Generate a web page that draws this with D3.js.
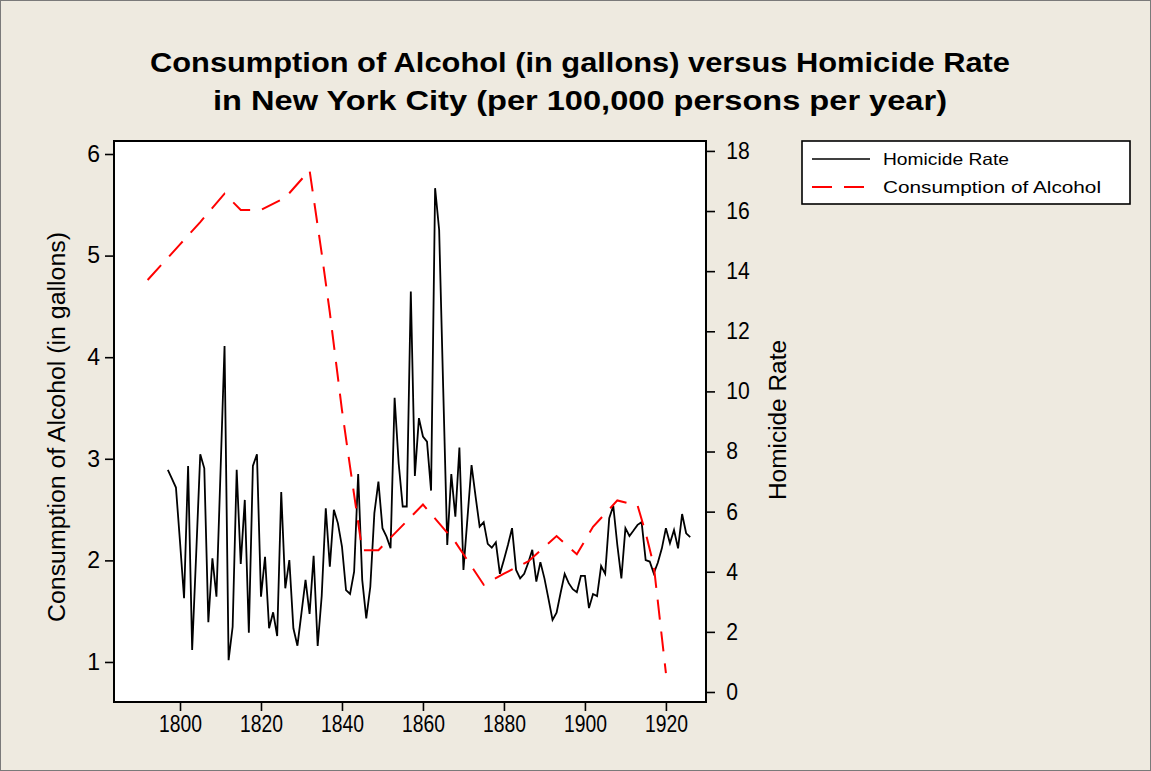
<!DOCTYPE html>
<html>
<head>
<meta charset="utf-8">
<script src="https://cdn.jsdelivr.net/npm/d3@7"></script>
<style>
  html, body { margin: 0; padding: 0; background: #EDE9DF; }
  svg { display: block; }
  text { font-family: "Liberation Sans", Arial, sans-serif; fill: #000; }
</style>
</head>
<body>
<svg id="chart" width="1151" height="771"></svg>
<script>
// ---- Data ----
const homicideYears = d3.range(1797, 1927);
const homicideRate = [
  7.39, 7.10, 6.80, 5.00, 3.12, 7.52, 1.40, 4.60, 7.91, 7.44,
  2.32, 4.45, 3.17, 7.30, 11.51, 1.06, 2.17, 7.39, 4.26, 6.39,
  1.97, 7.52, 7.91, 3.17, 4.50, 2.12, 2.65, 1.86, 6.65, 3.45,
  4.39, 2.12, 1.54, 2.63, 3.73, 2.60, 4.53, 1.53, 3.20, 6.11,
  4.17, 6.06, 5.61, 4.84, 3.39, 3.26, 4.00, 7.25, 3.73, 2.45,
  3.50, 5.95, 7.00, 5.45, 5.17, 4.78, 9.79, 7.61, 6.17, 6.17,
  13.32, 7.19, 9.11, 8.50, 8.33, 6.70, 16.76, 15.37, 10.10, 4.89,
  7.25, 5.83, 8.13, 4.06, 5.80, 7.55, 6.50, 5.50, 5.65, 4.93,
  4.80, 4.98, 3.93, 4.40, 4.90, 5.45, 4.06, 3.78, 3.93, 4.30,
  4.73, 3.67, 4.32, 3.78, 3.10, 2.40, 2.64, 3.30, 3.93, 3.62,
  3.42, 3.32, 3.86, 3.86, 2.79, 3.26, 3.19, 4.19, 3.93, 5.78,
  6.19, 4.89, 3.78, 5.45, 5.19, 5.37, 5.56, 5.65, 4.39, 4.34,
  3.95, 4.30, 4.78, 5.45, 4.95, 5.39, 4.78, 5.92, 5.28, 5.15
];
const alcoholYears = [1792, 1800, 1805, 1811, 1815, 1820, 1826, 1832, 1835, 1837, 1840, 1842, 1845, 1849,
  1860, 1868, 1875, 1880, 1886, 1893, 1898, 1902, 1908, 1913, 1915, 1917, 1920];
const alcoholValues = [4.76, 5.11, 5.33, 5.61, 5.45, 5.45, 5.57, 5.84, 5.02, 4.44, 3.48, 2.92, 2.10, 2.10,
  2.55, 2.18, 1.76, 1.87, 1.99, 2.24, 2.06, 2.33, 2.59, 2.54, 2.27, 1.95, 0.89];
const xTicks = [1800, 1820, 1840, 1860, 1880, 1900, 1920];
const leftTicks = [1, 2, 3, 4, 5, 6];
const rightTicks = [0, 2, 4, 6, 8, 10, 12, 14, 16, 18];
const titleLines = ["Consumption of Alcohol (in gallons) versus Homicide Rate",
                    "in New York City (per 100,000 persons per year)"];
const leftLabel = "Consumption of Alcohol (in gallons)";
const rightLabel = "Homicide Rate";
const legendLabels = ["Homicide Rate", "Consumption of Alcohol"];

// ---- Layout ----
const W = 1151, H = 771;
const plot = { left: 114, right: 706, top: 141, bottom: 702 };
const svg = d3.select("#chart");

svg.append("rect").attr("x", 0.5).attr("y", 0.5).attr("width", W - 1).attr("height", H - 1)
  .attr("fill", "#EEEAE0").attr("stroke", "#7a7a7a").attr("stroke-width", 1);

const x = d3.scaleLinear().domain([1783.7, 1929.9]).range([plot.left, plot.right]);
const yL = d3.scaleLinear().domain([0.606, 6.128]).range([plot.bottom, plot.top]);
const yR = d3.scaleLinear().domain([-0.333, 18.33]).range([plot.bottom, plot.top]);

svg.append("rect").attr("x", plot.left).attr("y", plot.top)
  .attr("width", plot.right - plot.left).attr("height", plot.bottom - plot.top)
  .attr("fill", "#fff");

svg.append("clipPath").attr("id", "clip").append("rect")
  .attr("x", plot.left).attr("y", plot.top)
  .attr("width", plot.right - plot.left).attr("height", plot.bottom - plot.top);

// Homicide line
const homData = homicideYears.map((yr, i) => [yr, homicideRate[i]]);
svg.append("path").datum(homData)
  .attr("clip-path", "url(#clip)")
  .attr("fill", "none").attr("stroke", "#000").attr("stroke-width", 1.8)
  .attr("d", d3.line().x(d => x(d[0])).y(d => yR(d[1])));

// Alcohol line
const alcData = alcoholYears.map((yr, i) => [yr, alcoholValues[i]]);
svg.append("path").datum(alcData)
  .attr("clip-path", "url(#clip)")
  .attr("fill", "none").attr("stroke", "#ff0000").attr("stroke-width", 2)
  .attr("stroke-dasharray", "20,12")
  .attr("d", d3.line().x(d => x(d[0])).y(d => yL(d[1])));

// frame
svg.append("rect").attr("x", plot.left).attr("y", plot.top)
  .attr("width", plot.right - plot.left).attr("height", plot.bottom - plot.top)
  .attr("fill", "none").attr("stroke", "#000").attr("stroke-width", 2);

// Axes
const tickFont = 23;
const gx = svg.append("g").attr("transform", `translate(0,${plot.bottom})`)
  .call(d3.axisBottom(x).tickValues(xTicks).tickFormat(d3.format("d")).tickSize(9).tickPadding(5));
const gl = svg.append("g").attr("transform", `translate(${plot.left},0)`)
  .call(d3.axisLeft(yL).tickValues(leftTicks).tickFormat(d3.format("d")).tickSize(9).tickPadding(5));
const gr = svg.append("g").attr("transform", `translate(${plot.right},0)`)
  .call(d3.axisRight(yR).tickValues(rightTicks).tickFormat(d3.format("d")).tickSize(9).tickPadding(11));
[gx, gl, gr].forEach(g => {
  g.select(".domain").remove();
  g.selectAll(".tick line").attr("stroke", "#000").attr("stroke-width", 1.6);
  g.selectAll(".tick text").attr("font-family", "Liberation Sans, Arial, sans-serif")
    .attr("font-size", tickFont).attr("fill", "#000");
});
gx.selectAll(".tick text").attr("textLength", 43).attr("lengthAdjust", "spacingAndGlyphs")
  .attr("x", -21.5).attr("text-anchor", "start");
gr.selectAll(".tick text").attr("transform", "scale(0.92,1)").attr("x", 22);

// Axis titles
svg.append("text")
  .attr("transform", `translate(65,427) rotate(-90)`)
  .attr("text-anchor", "middle").attr("font-size", 23)
  .attr("textLength", 390).attr("lengthAdjust", "spacingAndGlyphs")
  .text(leftLabel);
svg.append("text")
  .attr("transform", `translate(786,420) rotate(-90)`)
  .attr("text-anchor", "middle").attr("font-size", 23)
  .attr("textLength", 160).attr("lengthAdjust", "spacingAndGlyphs")
  .text(rightLabel);

// Title
const titleLens = [860, 734];
titleLines.forEach((t, i) => {
  svg.append("text").attr("x", 580).attr("y", 72 + i * 38)
    .attr("text-anchor", "middle").attr("font-size", 27).attr("font-weight", "bold")
    .attr("textLength", titleLens[i]).attr("lengthAdjust", "spacingAndGlyphs")
    .text(t);
});

// Legend
const lg = svg.append("g");
lg.append("rect").attr("x", 802).attr("y", 141).attr("width", 328).attr("height", 63)
  .attr("fill", "#fff").attr("stroke", "#000").attr("stroke-width", 1.6);
const legY = [159, 187];
const legLens = [126, 218];
lg.append("line").attr("x1", 812).attr("x2", 870).attr("y1", legY[0]).attr("y2", legY[0])
  .attr("stroke", "#000").attr("stroke-width", 1.6);
lg.append("line").attr("x1", 812).attr("x2", 870).attr("y1", legY[1]).attr("y2", legY[1])
  .attr("stroke", "#ff0000").attr("stroke-width", 2).attr("stroke-dasharray", "20,12");
legendLabels.forEach((t, i) => {
  lg.append("text").attr("x", 883).attr("y", legY[i] + 6)
    .attr("font-size", 16.5)
    .attr("textLength", legLens[i]).attr("lengthAdjust", "spacingAndGlyphs")
    .text(t);
});
</script>
</body>
</html>
